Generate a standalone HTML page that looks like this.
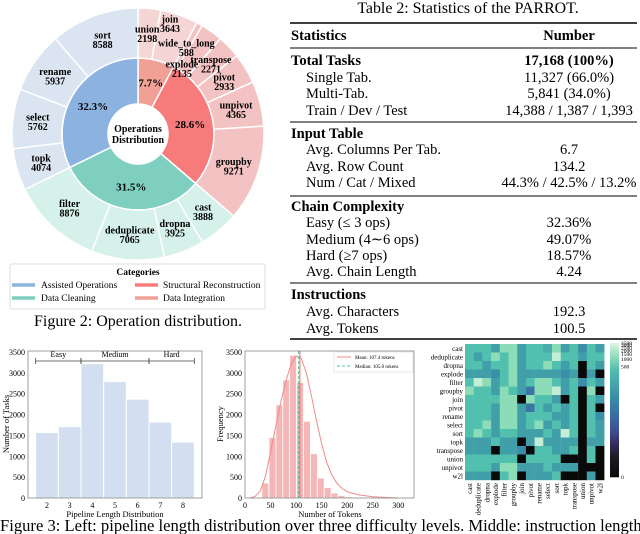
<!DOCTYPE html>
<html><head><meta charset="utf-8"><style>
html,body{margin:0;padding:0;background:#fff;width:640px;height:534px;overflow:hidden}
svg{display:block;font-family:"Liberation Serif",serif}
</style></head><body>
<svg id="s" width="640" height="534" viewBox="0 0 640 534" xmlns="http://www.w3.org/2000/svg">
<g id="donut"></g>
<g id="legend">
<rect x="10" y="264" width="255" height="45" fill="#fff" stroke="#ddd" rx="2"/>
<text x="138" y="275" text-anchor="middle" font-size="9.5" font-weight="bold">Categories</text>
<line x1="12" y1="285" x2="35" y2="285" stroke="#8cb3e0" stroke-width="3.5"/><text x="41" y="288" font-size="9.5">Assisted Operations</text>
<line x1="135" y1="285" x2="158" y2="285" stroke="#f77b7b" stroke-width="3.5"/><text x="163" y="288" font-size="9.5">Structural Reconstruction</text>
<line x1="12" y1="298" x2="35" y2="298" stroke="#7ecfc0" stroke-width="3.5"/><text x="41" y="301" font-size="9.5">Data Cleaning</text>
<line x1="135" y1="298" x2="158" y2="298" stroke="#f0a095" stroke-width="3.5"/><text x="163" y="301" font-size="9.5">Data Integration</text>
</g>
<text x="138" y="326" text-anchor="middle" font-size="16">Figure 2: Operation distribution.</text>
<g id="table" font-size="14.5"></g>
<g id="barL" font-size="8"></g>
<g id="hist" font-size="8"></g>
<g id="heat" font-size="7"></g>
<text x="0" y="531" font-size="16.6">Figure 3: Left: pipeline length distribution over three difficulty levels. Middle: instruction length</text>
</svg>
<script>
// ---------- donut data ----------
const opNames=["union","join","wide_to_long","explode","transpose","pivot","unpivot","groupby","cast","dropna","deduplicate","filter","topk","select","rename","sort"];
const opCounts=[2198,3643,588,2135,2271,2933,4365,9271,3888,3925,7065,8876,4074,5762,5937,8588];
const opCat=[0,0,1,1,1,1,1,1,2,2,2,2,3,3,3,3];
const catNames=["Data Integration","Structural Reconstruction","Data Cleaning","Assisted Operations"];
// ---------- left bar chart data ----------
const lenCats=[2,3,4,5,6,7,8];
const lenCounts=[1570,1710,3220,2790,2370,1820,1340];
const yTicks=[0,500,1000,1500,2000,2500,3000,3500];
// ---------- histogram data ----------
const binStarts=[33,47,60.5,74,87.5,101,114.5,128,141.5,155,168.5,182,195.5,209,222.5,236];
const binCounts=[360,1450,2230,2830,3420,2770,1840,1060,480,250,120,60,30,15,8,4];
const kdeX=[10,20,30,40,50,60,70,80,90,100,110,120,130,140,150,160,170,180,190,200,220,250,280,300];
const kdeY=[0,40,170,520,1100,1700,2300,2800,3200,3400,3350,3000,2450,1850,1300,850,550,350,230,150,80,30,10,0];
const meanTok=107.4, medianTok=105.0;
const xTokTicks=[0,50,100,150,200,250,300];
// ---------- heatmap data ----------
const hmLabels=["cast","deduplicate","dropna","explode","filter","groupby","join","pivot","rename","select","sort","topk","transpose","union","unpivot","w2l"];
const L={0:0,1:3,1.5:20,2:60,2.5:150,3:400,3.5:700,4:1200,5:2500};
const hmLevels=[
[3,3,3,2,4,4,2,3,3,2.5,4,2,3,1.5,3,2],
[3,2,3,4,3,4,2,3,3,3,5,3,3,2,3,3],
[3,3,2,3,3,4,2,3,3,4,3,2,3,0,3,2],
[2,2,2,1.5,3,4,2,2,2,2,2,1.5,2,0,2,0],
[3,5,4,2,3,4,2,3,4,4,3,2,3,1.5,3,2],
[4,3,3,2,4,3,2,1,4,4,5,2,3,0,4,0],
[3,3,3,3,4,4,0,4,3,3,2,0,3,0,3,2],
[3,3,3,2,4,4,2,1,3,2,3,2,3,0,3,0],
[3,3,3,2,4,4,2,3,3,3,2,2,3,0,3,1.5],
[3,3,4,2,4,4,2,3,4,2,3,2,3,0,3,2],
[3,4,3,2,3,3,2,2,2,3,2,5,3,0,3,2],
[2,2,2,3,2,2,0,2,5,2,2,2,2,0,2,2],
[2,2,2,0,2,2,1.5,0,3,3,2,2,3,0,3,0],
[3,3,3,3,3,3,0,3,3,3,3,0,0,0,3,0],
[3,3,3,2,4,4,2,2,2,3,2,2,2,0,0,0],
[2,2,2,0,3,4,0,2,2,2,3,0,0,0,2,0]];
const hmValues=hmLevels.map(r=>r.map(l=>L[l]));
const cbTicks=[0,500,1000,1500,2000,2500,3000,3500];

const NS="http://www.w3.org/2000/svg";
function mk(tag,attrs,parent,txt){const e=document.createElementNS(NS,tag);for(const k in attrs)e.setAttribute(k,attrs[k]);if(txt!==undefined)e.textContent=txt;parent.appendChild(e);return e;}

// ===== Donut =====
(function(){
const g=document.getElementById('donut');
const slices=mk('g',{},g), labels=mk('g',{},g);
const cx=138,cy=134,r0=30,r1=76,r2=126;
const inner=["#f0a095","#f77b7b","#7ecfc0","#8cb3e0"];
const outerC=["#f6d6d4","#f3c3c3","#d6f1ea","#dbe5f2"];
const total=opCounts.reduce((a,b)=>a+b,0);
function pt(a,r){const rad=a*Math.PI/180;return [cx+r*Math.sin(rad),cy-r*Math.cos(rad)];}
function arc(a0,a1,ri,ro){const p0=pt(a0,ro),p1=pt(a1,ro),p2=pt(a1,ri),p3=pt(a0,ri);const lg=(a1-a0)>180?1:0;
return `M${p0[0]},${p0[1]}A${ro},${ro} 0 ${lg} 1 ${p1[0]},${p1[1]}L${p2[0]},${p2[1]}A${ri},${ri} 0 ${lg} 0 ${p3[0]},${p3[1]}Z`;}
const catSum=[0,0,0,0];opCounts.forEach((c,i)=>catSum[opCat[i]]+=c);
let a=0;
catSum.forEach((s,ci)=>{const sp=s/total*360;
 const p=mk('path',{d:arc(a,a+sp,r0,r1),fill:inner[ci],stroke:'#fff','stroke-width':1.5},slices);
 
 
 const m=pt(a+sp/2,53);
 const t=mk('text',{x:m[0],y:m[1]+4,'text-anchor':'middle','font-size':11,'font-weight':'bold'},labels,(s/total*100).toFixed(1)+'%');
 
 
 a+=sp;});
const adjA={1:-3,3:-2}, adjR={1:14,2:-2,3:-22};
a=0;
opCounts.forEach((c,i)=>{const sp=c/total*360;
 const p=mk('path',{d:arc(a,a+sp,r1,r2),fill:outerC[opCat[i]],stroke:'#fff','stroke-width':1.5},slices);
 
 
 const m=pt(a+sp/2+(adjA[i]||0),101+(adjR[i]||0));
 const t=mk('text',{x:m[0],y:m[1]-1,'text-anchor':'middle','font-size':10,'font-weight':'bold'},labels);
 
 
 mk('tspan',{x:m[0]},t,opNames[i]);mk('tspan',{x:m[0],dy:9.5},t,String(c));
 a+=sp;});
mk('circle',{cx:cx,cy:cy,r:r0,fill:'#fff'},slices);
const ct=mk('text',{x:cx,y:cy-2,'text-anchor':'middle','font-size':10,'font-weight':'bold'},labels);


mk('tspan',{x:cx},ct,'Operations');mk('tspan',{x:cx,dy:11},ct,'Distribution');
})();

// ===== Table =====
(function(){
const g=document.getElementById('table');
const cap=mk('text',{x:468,y:13,'text-anchor':'middle','font-size':15.9},g,'Table 2: Statistics of the PARROT.');


const rows=[
[35,'Statistics','Number',2],[60,'Total Tasks','17,168 (100%)',2],[77,'Single Tab.','11,327 (66.0%)',1],[93,'Multi-Tab.','5,841 (34.0%)',1],[110,'Train / Dev / Test','14,388 / 1,387 / 1,393',1],
[133,'Input Table','',0],[149,'Avg. Columns Per Tab.','6.7',1],[166,'Avg. Row Count','134.2',1],[182,'Num / Cat / Mixed','44.3% / 42.5% / 13.2%',1],
[206,'Chain Complexity','',0],[222,'Easy (≤ 3 ops)','32.36%',1],[239,'Medium (4∼6 ops)','49.07%',1],[255,'Hard (≥7 ops)','18.57%',1],[271,'Avg. Chain Length','4.24',1],
[294,'Instructions','',0],[311,'Avg. Characters','192.3',1],[328,'Avg. Tokens','100.5',1]];
rows.forEach(r=>{const bold=r[3]!==1;
 const t=mk('text',{x:bold?291:306,y:r[0]+5,'font-weight':bold?'bold':'normal'},g,r[1]);
 
 
 if(r[2]){const v=mk('text',{x:569,y:r[0]+5,'text-anchor':'middle','font-weight':r[3]==2?'bold':'normal'},g,r[2]);
 
 }});
[[23,1.6],[48,1],[122,1],[196,1],[283,1],[339,1.6]].forEach(l=>mk('line',{x1:290,x2:637,y1:l[0],y2:l[0],stroke:'#000','stroke-width':l[1]},g));
})();

// ===== Left bar chart =====
(function(){
const g=document.getElementById('barL');
const X=v=>47+(v-2)*22.67, Y=v=>498-v*146/3500;
lenCats.forEach((c,i)=>{const r=mk('rect',{x:X(c)-11.33,y:Y(lenCounts[i]),width:22.67,height:Y(0)-Y(lenCounts[i]),fill:'#d3dff0',stroke:'#fff','stroke-width':1},g);
 
 });
mk('rect',{x:28,y:351,width:174,height:147,fill:'none',stroke:'#888','stroke-width':0.8},g);
yTicks.forEach(v=>{mk('text',{x:25,y:Y(v)+3,'text-anchor':'end'},g,String(v));});
lenCats.forEach(c=>mk('text',{x:X(c),y:508,'text-anchor':'middle'},g,String(c)));
const xt=mk('text',{x:115,y:517,'text-anchor':'middle','font-size':8.5},g,'Pipeline Length Distribution');


const yt=mk('text',{x:9,y:424,'text-anchor':'middle','font-size':8.5,transform:'rotate(-90 9 424)'},g,'Number of Tasks');


[[1.5,3.5,'Easy'],[3.5,6.5,'Medium'],[6.5,8.5,'Hard']].forEach(b=>{const y=361;
 mk('line',{x1:X(b[0]),x2:X(b[1]),y1:y,y2:y,stroke:'#444','stroke-width':0.8},g);
 mk('line',{x1:X(b[0]),x2:X(b[0]),y1:y-3,y2:y+3,stroke:'#444','stroke-width':0.8},g);
 mk('line',{x1:X(b[1]),x2:X(b[1]),y1:y-3,y2:y+3,stroke:'#444','stroke-width':0.8},g);
 mk('text',{x:(X(b[0])+X(b[1]))/2,y:357,'text-anchor':'middle'},g,b[2]);});
})();

// ===== Histogram =====
(function(){
const g=document.getElementById('hist');
const X=v=>245+v*0.511, Y=v=>498-v*146/3500, bw=13.5;
binStarts.forEach((s,i)=>{const r=mk('rect',{x:X(s),y:Y(binCounts[i]),width:bw*0.511,height:Y(0)-Y(binCounts[i]),fill:'#f4b6b6',stroke:'#fff','stroke-width':0.8},g);
 
 });
const kd=mk('path',{d:kdeX.map((x,i)=>(i?'L':'M')+X(x)+','+Y(kdeY[i])).join(''),fill:'none',stroke:'#f08a8a','stroke-width':1},g);


const ml=mk('line',{x1:X(meanTok),x2:X(meanTok),y1:351,y2:498,stroke:'#e07070','stroke-width':1},g);


const dl=mk('line',{x1:X(medianTok),x2:X(medianTok),y1:351,y2:498,stroke:'#5cbf8a','stroke-width':1,'stroke-dasharray':'3,2'},g);


mk('rect',{x:245,y:351,width:169,height:147,fill:'none',stroke:'#888','stroke-width':0.8},g);
yTicks.forEach(v=>mk('text',{x:242,y:Y(v)+3,'text-anchor':'end'},g,String(v)));
xTokTicks.forEach(v=>mk('text',{x:X(v),y:508,'text-anchor':'middle'},g,String(v)));
const xt=mk('text',{x:330,y:517,'text-anchor':'middle','font-size':8.5},g,'Number of Tokens');


const yt=mk('text',{x:223,y:424,'text-anchor':'middle','font-size':8.5,transform:'rotate(-90 223 424)'},g,'Frequency');


const lg=mk('g',{},g);


mk('rect',{x:334,y:352,width:79,height:20,fill:'#fff',stroke:'#ddd','stroke-width':0.6},lg);
mk('line',{x1:337,x2:351,y1:357,y2:357,stroke:'#f08a8a'},lg);
mk('text',{x:355,y:359,'font-size':5},lg,'Mean: '+meanTok.toFixed(1)+' tokens');
mk('line',{x1:337,x2:351,y1:366,y2:366,stroke:'#5cbf8a','stroke-dasharray':'3,2'},lg);
mk('text',{x:355,y:368,'font-size':5},lg,'Median: '+medianTok.toFixed(1)+' tokens');
})();

// ===== Heatmap =====
(function(){
const g=document.getElementById('heat');
const x0=465,y0=344,cw=8.7,ch=8.5,vmax=3500;
const stops=[[0,[10,10,10]],[0.15,[30,26,34]],[0.25,[54,44,94]],[0.33,[62,74,140]],[0.45,[59,106,162]],[0.6,[58,143,168]],[0.8,[79,191,173]],[0.9,[142,220,184]],[1,[222,245,229]]];
function col(v){const t=Math.pow(Math.max(v,0)/vmax,0.1);for(let i=1;i<stops.length;i++){if(t<=stops[i][0]){const a=stops[i-1],b=stops[i],f=(t-a[0])/(b[0]-a[0]);return 'rgb('+a[1].map((c,k)=>Math.round(c+(b[1][k]-c)*f)).join(',')+')';}}return 'rgb(222,245,229)';}
hmValues.forEach((row,i)=>row.forEach((v,j)=>{const r=mk('rect',{x:x0+j*cw,y:y0+i*ch,width:cw+0.2,height:ch+0.2,fill:col(v)},g);
 
 }));
hmLabels.forEach((l,i)=>{mk('text',{x:x0-2,y:y0+i*ch+ch/2+2.5,'text-anchor':'end'},g,l);
 const cx=x0+i*cw+cw/2+2.5;mk('text',{x:cx,y:483,'text-anchor':'end',transform:`rotate(-90 ${cx} 483)`},g,l);});
const cb=mk('g',{},g);


const by0=343,by1=477,bx=610,bwid=9;
for(let k=0;k<67;k++){const t0=k/67;const v=vmax*Math.pow(t0+0.5/67,10);mk('rect',{x:bx,y:by1-(k+1)*(by1-by0)/67,width:bwid,height:(by1-by0)/67+0.3,fill:col(v)},cb);}
cbTicks.forEach(v=>{const y=by1-Math.pow(v/vmax,0.1)*(by1-by0);mk('text',{x:bx+bwid+2,y:y+2,'font-size':5.5},cb,String(v));});
})();
</script>
</body></html>
